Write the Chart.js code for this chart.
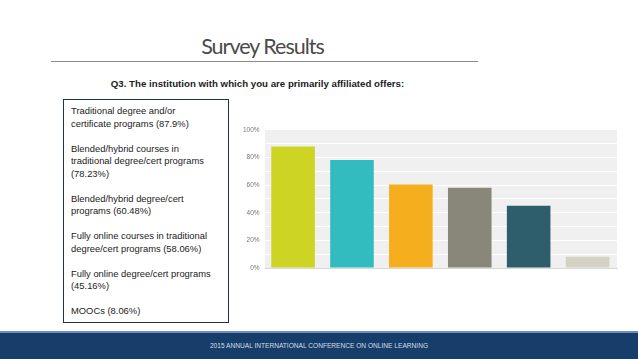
<!DOCTYPE html>
<html>
<head>
<meta charset="utf-8">
<script src="https://cdn.jsdelivr.net/npm/chart.js@4.4.0/dist/chart.umd.min.js"></script>
<style>
  body { margin: 0; width: 638px; height: 359px; background: #fff; position: relative; overflow: hidden; font-family: "Open Sans", sans-serif; }
  #titulo { position: absolute; left: 0; width: 525px; top: 33px; text-align: center; font-size: 21.5px; color: #4a4a4a; letter-spacing: -1px; font-family: "Lato", sans-serif; }
  #linea { position: absolute; left: 51px; width: 427px; top: 61px; height: 1px; background: #8a8a8a; }
  #pregunta { position: absolute; left: 0; width: 515px; top: 78px; text-align: center; font-size: 9.7px; font-weight: bold; color: #222; font-family: "Liberation Sans", sans-serif; }
  #leyenda { position: absolute; left: 63px; top: 99px; width: 157px; height: 217px; border: 1.5px solid #1d3347; padding: 5px 0 0 7px; font-family: "Liberation Sans", sans-serif; font-size: 9.4px; line-height: 12.5px; color: #222; }
  #grafico-box { position: absolute; left: 239px; top: 122px; width: 392px; height: 154px; }
  #pie { position: absolute; left: 0; top: 331px; width: 638px; height: 28px; background: #173e6a; border-top: 2px solid #6c8cc4; box-sizing: border-box; }
  #pie span { position: absolute; left: 0; width: 638px; top: 9px; text-align: center; font-size: 6.6px; color: #d6dde8; font-family: "Liberation Sans", sans-serif; }
</style>
</head>
<body>
<div id="titulo">Survey Results</div>
<div id="linea"></div>
<div id="pregunta">Q3. The institution with which you are primarily affiliated offers:</div>
<div id="leyenda"></div>
<div id="grafico-box"><canvas id="grafico"></canvas></div>
<div id="pie"><span>2015 ANNUAL INTERNATIONAL CONFERENCE ON ONLINE LEARNING</span></div>

<script>
// Respuestas (texto de la leyenda, una línea por elemento)
const categorias = [
  ['Traditional degree and/or', 'certificate programs (87.9%)'],
  ['Blended/hybrid courses in', 'traditional degree/cert programs', '(78.23%)'],
  ['Blended/hybrid degree/cert', 'programs (60.48%)'],
  ['Fully online courses in traditional', 'degree/cert programs (58.06%)'],
  ['Fully online degree/cert programs', '(45.16%)'],
  ['MOOCs (8.06%)']
];
const valores = [87.9, 78.23, 60.48, 58.06, 45.16, 8.06];
const colores = ['#cdd423', '#33bcbf', '#f5ae1e', '#88877a', '#2e5e6b', '#d4d2c2'];
const ticksY = ['0%', '20%', '40%', '60%', '80%', '100%'];

// Leyenda en texto
const leyenda = document.getElementById('leyenda');
leyenda.innerHTML = categorias.map(c => c.join('<br>')).join('<br><br>');

// Fondo gris del área del gráfico
const fondo = {
  id: 'fondo',
  beforeDraw(chart) {
    const a = chart.chartArea;
    const ctx = chart.ctx;
    ctx.save();
    ctx.fillStyle = '#f0f0f0';
    ctx.fillRect(a.left, a.top, a.right - a.left, a.bottom - a.top);
    ctx.restore();
  }
};

const ctx = document.getElementById('grafico').getContext('2d');
new Chart(ctx, {
  type: 'bar',
  data: {
    labels: categorias.map(c => c.join(' ')),
    datasets: [{
      data: valores,
      backgroundColor: colores,
      barPercentage: 0.74,
      categoryPercentage: 1
    }]
  },
  options: {
    responsive: true,
    maintainAspectRatio: false,
    animation: false,
    layout: { padding: { top: 6, right: 14, bottom: 0, left: 0 } },
    plugins: {
      legend: { display: false },
      tooltip: { enabled: false }
    },
    scales: {
      x: {
        ticks: { display: false },
        grid: { display: false },
        border: { color: '#d8d8d8' }
      },
      y: {
        min: 0,
        max: 100,
        ticks: {
          stepSize: 10,
          color: '#777',
          font: { size: 6.5, family: 'Liberation Sans' },
          padding: 4,
          callback: v => (v % 20 === 0 ? ticksY[v / 20] : '')
        },
        grid: { color: '#ffffff', lineWidth: 1, drawTicks: false },
        border: { color: '#ffffff', width: 2 }
      }
    }
  },
  plugins: [fondo]
});
</script>
</body>
</html>
